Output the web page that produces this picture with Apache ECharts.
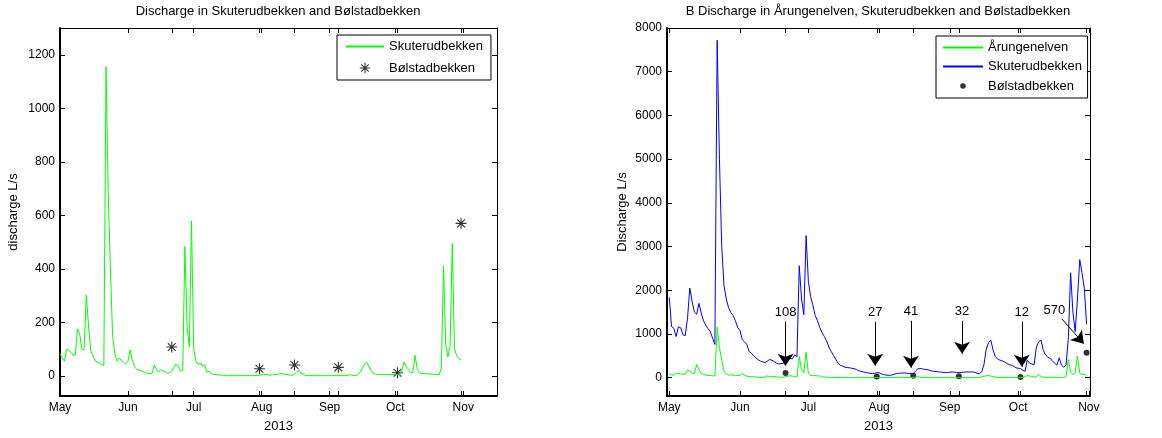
<!DOCTYPE html>
<html>
<head>
<meta charset="utf-8">
<script src="https://cdn.jsdelivr.net/npm/echarts@6/dist/echarts.min.js"></script>
<style>
  html, body { margin: 0; padding: 0; background: #fff; }
  #chart { width: 1162px; height: 438px; }
</style>
</head>
<body>
<div id="chart"></div>
<script>
// daily values from 1 May 2013 (day 0) to 31 Oct 2013 (day 183)
const startDate = "2013-05-01";
const monthDays = [0, 31, 61, 92, 123, 153, 184];
const monthLabels = ["May", "Jun", "Jul", "Aug", "Sep", "Oct", "Nov"];

// green line (Skuterudbekken left, Årungenelven right)
const greenFlow = [
  83, 68, 55, 99, 96, 88, 77, 78, 176, 155,
  98, 98, 303, 190, 96, 75, 58, 52, 48, 42,
  38, 1155, 690, 400, 150, 85, 55, 67, 58, 50,
  45, 55, 97, 60, 35, 25, 22, 20, 16, 12,
  10, 9, 10, 41, 25, 14, 24, 18, 14, 9,
  12, 18, 32, 45, 35, 17, 20, 483, 180, 108,
  579, 102, 55, 42, 50, 37, 42, 15, 17, 10,
  5, 5, 4, 3, 3, 2, 1, 1, 1, 1,
  1, 1, 1, 1, 1, 1, 1, 1, 1, 1,
  2, 3, 4, 5, 5, 4, 3, 4, 5, 6,
  7, 9, 8, 5, 4, 3, 3, 6, 15, 22,
  10, 5, 2, 1, 1, 1, 1, 1, 1, 1,
  1, 1, 1, 1, 1, 1, 1, 1, 1, 1,
  1, 1, 5, 3, 2, 2, 5, 15, 30, 45,
  50, 35, 20, 9, 6, 5, 5, 5, 5, 5,
  5, 5, 5, 5, 5, 5, 20, 52, 35, 25,
  12, 12, 77, 27, 12, 10, 9, 8, 8, 7,
  7, 6, 5, 5, 30, 411, 120, 71, 110, 495,
  102, 75, 65, 61
];

// blue line (Skuterudbekken, right chart)
const blueFlow = [
  1838, 1170, 1130, 940, 1160, 1140, 980, 960, 1360, 2050,
  1750, 1500, 1450, 1700, 1480, 1300, 1200, 1120, 1050, 900,
  760, 7720, 5000, 3000, 2100, 1800, 1600, 1490, 1420, 1300,
  1150, 1080, 870, 820, 760, 600, 560, 500, 450, 410,
  380, 360, 345, 380, 415, 400, 370, 330, 315, 320,
  330, 300, 420, 440, 430, 520, 480, 2560, 1800, 1440,
  3250, 2200, 1850, 1650, 1420, 1300, 1150, 1030, 940, 840,
  700, 600, 510, 420, 330, 280, 265, 240, 230, 225,
  215, 205, 190, 160, 145, 130, 120, 110, 100, 95,
  100, 110, 115, 85, 70, 60, 55, 55, 65, 85,
  95, 100, 105, 108, 100, 95, 92, 95, 150, 200,
  208, 200, 190, 185, 170, 155, 145, 140, 133, 128,
  120, 115, 118, 125, 130, 125, 118, 115, 118, 125,
  130, 132, 130, 131, 120, 100, 92, 130, 300, 650,
  800, 860, 630, 480, 430, 400, 385, 360, 325, 300,
  285, 260, 225, 215, 210, 170, 146, 400, 330, 310,
  300, 700, 820, 860, 630, 520, 470, 440, 390, 330,
  285, 454, 285, 240, 285, 900, 2400, 1500, 1054, 1800,
  2700, 2400, 2050, 1220
];

// Bølstadbekken samples
const sampleDates = ["2013-06-21", "2013-07-31", "2013-08-16", "2013-09-05", "2013-10-02", "2013-10-31"];
const sampleValues = [108, 27, 41, 32, 12, 570];

// annotation arrows on the right chart (day, L/s), tip at the "to" end
const arrowFromDay = [51, 90.3, 106, 128.4, 154.6, 172.1];
const arrowFromVal = [1280, 1280, 1300, 1300, 1280, 1347];
const arrowToDay = [51, 90.3, 106, 128.4, 154.6, 181.8];
const arrowToVal = [274, 274, 228, 548, 251, 776];

const dayOf = (d) => Math.round((Date.parse(d) - Date.parse(startDate)) / 86400000);
const sampleDays = sampleDates.map(dayOf);
const tickDays = monthDays.concat(sampleDays);

const font = "Liberation Sans, Arial, Helvetica, sans-serif";

// matlab '*' marker
const plusPts = (w, a) => [[-w,-a],[w,-a],[w,-w],[a,-w],[a,w],[w,w],[w,a],[-w,a],[-w,w],[-a,w],[-a,-w],[-w,-w]];
const toPath = (pts) => "M" + pts.map((p) => p[0].toFixed(2) + "," + p[1].toFixed(2)).join("L") + "Z";
const pp = plusPts(0.6, 6);
const c45 = Math.SQRT1_2;
const starBody = toPath(pp) + toPath(pp.map((p) => [(p[0] - p[1]) * c45, (p[0] + p[1]) * c45]));
const starPath = "path://" + starBody;
// legend icons: empty corner points keep the mark small inside the icon box
const starIcon = "path://M-8,-8Z M8,8Z " + starBody;
const dotIcon = "path://M-7,-7Z M7,7Z M-2.8,0A2.8,2.8 0 1 0 2.8,0A2.8,2.8 0 1 0 -2.8,0Z";

const monthFmt = (v) => monthLabels[monthDays.indexOf(v)] || "";
const plainFmt = (v) => String(v);

function xAxes(gridIndex, min, max) {
  return [
    {
      gridIndex: gridIndex, type: "value", min: min, max: max,
      position: "bottom",
      axisLine: { onZero: false, lineStyle: { color: "#000", width: 2 } },
      axisTick: { inside: true, length: 5, customValues: tickDays, lineStyle: { color: "#000" } },
      axisLabel: { customValues: monthDays, formatter: monthFmt, color: "#000", fontSize: 12, fontFamily: font, margin: 6 },
      splitLine: { show: false },
      name: "2013", nameLocation: "middle", nameGap: 24,
      nameTextStyle: { color: "#000", fontSize: 13, fontFamily: font },
    },
    {
      gridIndex: gridIndex, type: "value", min: min, max: max,
      position: "top",
      axisLine: { onZero: false, lineStyle: { color: "#000", width: 1 } },
      axisTick: { inside: true, length: 5, customValues: tickDays, lineStyle: { color: "#000" } },
      axisLabel: { show: false },
      splitLine: { show: false },
    },
  ];
}

function yAxes(gridIndex, min, max, ticks, name, gap) {
  return [
    {
      gridIndex: gridIndex, type: "value", min: min, max: max, position: "left",
      axisLine: { show: true, onZero: false, lineStyle: { color: "#000", width: 2 } },
      axisTick: { show: true, inside: true, length: 5, customValues: ticks, lineStyle: { color: "#000" } },
      axisLabel: { customValues: ticks, formatter: plainFmt, color: "#000", fontSize: 12, fontFamily: font, margin: 5 },
      splitLine: { show: false },
      name: name, nameLocation: "middle", nameGap: gap, nameRotate: 90,
      nameTextStyle: { color: "#000", fontSize: 13, fontFamily: font },
    },
    {
      gridIndex: gridIndex, type: "value", min: min, max: max, position: "right",
      axisLine: { show: true, onZero: false, lineStyle: { color: "#000", width: 1 } },
      axisTick: { show: true, inside: true, length: 5, customValues: ticks, lineStyle: { color: "#000" } },
      axisLabel: { show: false },
      splitLine: { show: false },
    },
  ];
}

const leftTicks = [0, 200, 400, 600, 800, 1000, 1200];
const rightTicks = [0, 1000, 2000, 3000, 4000, 5000, 6000, 7000, 8000];

const legendBase = {
  orient: "vertical", itemHeight: 14,
  backgroundColor: "#fff", borderColor: "#000", borderWidth: 1, borderRadius: 0,
  selectedMode: false,
  textStyle: { color: "#000", fontSize: 13, fontFamily: font },
};
const lineItem = (name) => ({ name: name, itemStyle: { opacity: 0 } });

const chart = echarts.init(document.getElementById("chart"));
const option = {
  animation: false,
  backgroundColor: "#fff",
  title: [
    {
      text: "Discharge in Skuterudbekken and Bølstadbekken",
      left: 278, top: 5, textAlign: "center", padding: 0,
      textStyle: { color: "#000", fontSize: 13, fontWeight: "normal", fontFamily: font },
    },
    {
      text: "B Discharge in Årungenelven, Skuterudbekken and Bølstadbekken",
      left: 878, top: 5, textAlign: "center", padding: 0,
      textStyle: { color: "#000", fontSize: 13, fontWeight: "normal", fontFamily: font },
    },
  ],
  legend: [
    Object.assign({}, legendBase, {
      data: [lineItem("Skuterudbekken"), { name: "Bølstadbekken", icon: starIcon }],
      left: 337, top: 35, itemWidth: 38, itemGap: 8,
      padding: [5, 8, 5, 8],
    }),
    Object.assign({}, legendBase, {
      data: [lineItem("Årungenelven"), lineItem("Skuterudbekken "), { name: "Bølstadbekken ", icon: dotIcon }],
      left: 936, top: 36, itemWidth: 40, itemGap: 6,
      padding: [5, 2, 5, 6],
    }),
  ],
  grid: [
    { left: 60, top: 28, width: 437, height: 369 },
    { left: 667, top: 28, width: 423, height: 369 },
  ],
  xAxis: xAxes(0, 0, 199.4).concat(xAxes(1, -1, 184.5)),
  yAxis: yAxes(0, -75, 1300, leftTicks, "discharge L/s", 40)
    .concat(yAxes(1, -420, 8000, rightTicks, "Discharge L/s", 38)),
  series: [
    {
      name: "Skuterudbekken", type: "line", xAxisIndex: 0, yAxisIndex: 0,
      data: greenFlow.map((v, i) => [i, v]),
      symbol: "none", color: "#00ff00", lineStyle: { width: 1, color: "#00ff00" },
    },
    {
      name: "Bølstadbekken", type: "scatter", xAxisIndex: 0, yAxisIndex: 0,
      data: sampleDays.map((d, i) => [d, sampleValues[i]]),
      symbol: starPath, symbolSize: 11, color: "#000",
    },
    {
      name: "Årungenelven", type: "line", xAxisIndex: 2, yAxisIndex: 2,
      data: greenFlow.map((v, i) => [i, v]),
      symbol: "none", color: "#00ff00", lineStyle: { width: 1, color: "#00ff00" },
    },
    {
      name: "Skuterudbekken ", type: "line", xAxisIndex: 2, yAxisIndex: 2,
      data: blueFlow.map((v, i) => [i, v]),
      symbol: "none", color: "#0000ff", lineStyle: { width: 1, color: "#0000ff" },
    },
    {
      name: "Bølstadbekken ", type: "scatter", xAxisIndex: 2, yAxisIndex: 2,
      data: sampleDays.map((d, i) => [d, sampleValues[i]]),
      symbol: "circle", symbolSize: 6, color: "#000",
      markLine: {
        silent: true,
        symbol: ["none", "arrow"],
        symbolSize: 12,
        itemStyle: { color: "#000" },
        lineStyle: { color: "#000", width: 1, type: "solid" },
        label: {
          show: true, position: "start", distance: 3, formatter: "{b}",
          color: "#000", fontSize: 13, fontFamily: font,
        },
        emphasis: { disabled: true },
        data: arrowFromDay.map((d, i) => [
          { coord: [d, arrowFromVal[i]], name: String(sampleValues[i]),
            label: i === 5 ? { distance: 11 } : undefined },
          { coord: [arrowToDay[i], arrowToVal[i]] },
        ]),
      },
    },
  ],
};
chart.setOption(option);
</script>
</body>
</html>
